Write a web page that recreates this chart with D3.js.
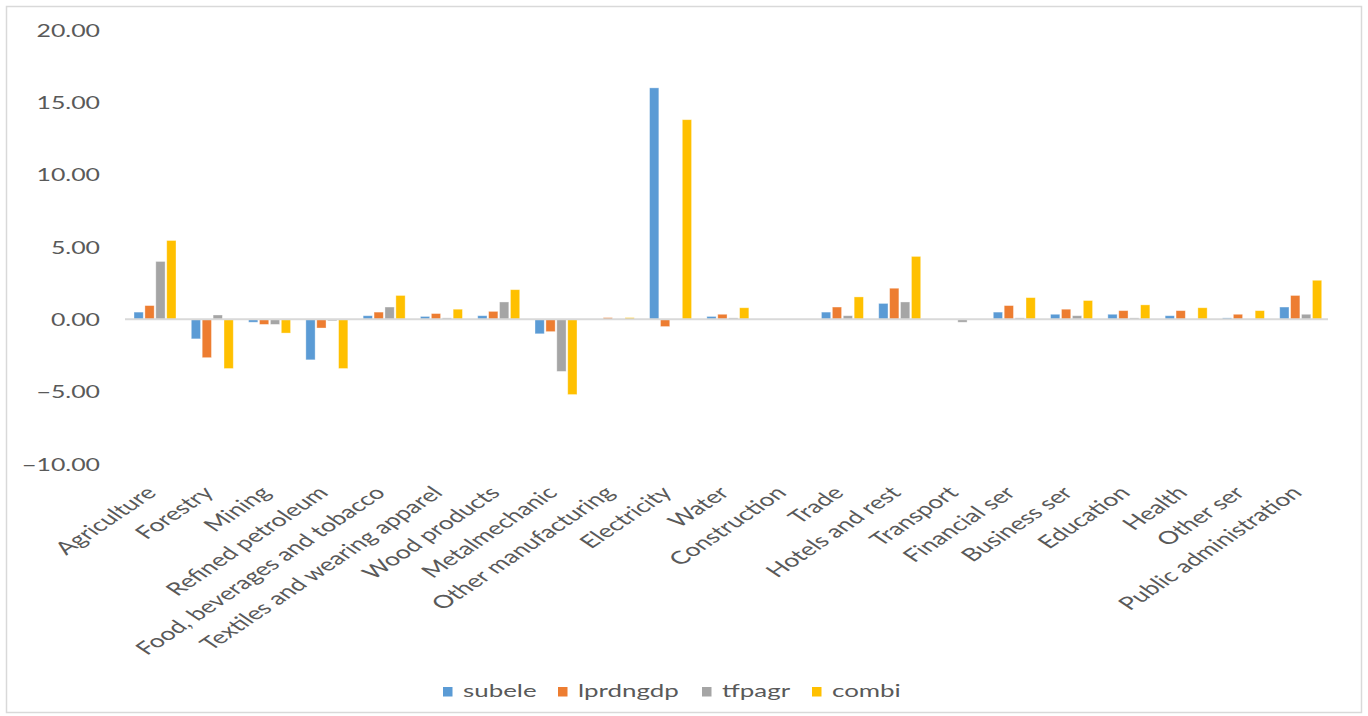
<!DOCTYPE html>
<html>
<head>
<meta charset="utf-8">
<script src="https://cdn.jsdelivr.net/npm/d3@7"></script>
<style>
  html, body { margin: 0; padding: 0; background: #ffffff; }
  svg { display: block; }
  text { font-family: Lato, "Open Sans", sans-serif; fill: #595959; }
</style>
</head>
<body>
<svg id="chart" width="1368" height="716"></svg>
<script>
// Sector categories along the x axis
const categories = [
  "Agriculture", "Forestry", "Mining", "Refined petroleum",
  "Food, beverages and tobacco", "Textiles and wearing apparel",
  "Wood products", "Metalmechanic", "Other manufacturing", "Electricity",
  "Water", "Construction", "Trade", "Hotels and rest", "Transport",
  "Financial ser", "Business ser", "Education", "Health", "Other ser",
  "Public administration"
];

// Series names and values, one value per category
const seriesNames = ["subele", "lprdngdp", "tfpagr", "combi"];
const subele   = [0.50, -1.35, -0.20, -2.80, 0.25, 0.20, 0.25, -1.00, 0.00, 16.00, 0.20, 0.00, 0.50, 1.10, 0.00, 0.50, 0.35, 0.35, 0.25, 0.10, 0.85];
const lprdngdp = [0.95, -2.65, -0.35, -0.60, 0.50, 0.40, 0.55, -0.85, 0.12, -0.50, 0.35, 0.00, 0.85, 2.15, 0.00, 0.95, 0.70, 0.60, 0.60, 0.35, 1.65];
const tfpagr   = [4.00, 0.30, -0.35, -0.10, 0.85, 0.10, 1.20, -3.60, 0.00, 0.00, 0.10, 0.00, 0.25, 1.20, -0.20, 0.10, 0.25, 0.10, 0.00, 0.00, 0.35];
const combi    = [5.45, -3.40, -0.95, -3.40, 1.65, 0.70, 2.05, -5.20, 0.12, 13.80, 0.80, 0.00, 1.55, 4.35, 0.00, 1.50, 1.30, 1.00, 0.80, 0.60, 2.70];

// Y axis ticks
const yTicks = [-10, -5, 0, 5, 10, 15, 20];
</script>
<script>
const seriesValues = [subele, lprdngdp, tfpagr, combi];
const colors = ["#5B9BD5", "#ED7D31", "#A5A5A5", "#FFC000"];
const TEXT_STRETCH = 1.42;

const svg = d3.select("#chart");

// Outer chart frame
svg.append("rect")
  .attr("x", 6.5).attr("y", 6.5)
  .attr("width", 1355).attr("height", 706)
  .attr("fill", "#ffffff")
  .attr("stroke", "#d9d9d9").attr("stroke-width", 1.5);

// Scales
const x0 = d3.scaleBand().domain(categories).range([125, 1328]).padding(0);
const x1 = d3.scaleBand().domain(seriesNames)
  .range([9, 51]).paddingInner(0.15).paddingOuter(0);
const y = d3.scaleLinear().domain([-10, 20]).range([464, 30]);
const color = d3.scaleOrdinal().domain(seriesNames).range(colors);

// Bars
const rows = categories.map((c, i) => ({
  cat: c,
  vals: seriesNames.map((s, k) => ({ series: s, value: seriesValues[k][i] }))
}));

const groups = svg.append("g").selectAll("g")
  .data(rows).join("g")
  .attr("transform", d => `translate(${x0(d.cat)},0)`);

groups.selectAll("rect")
  .data(d => d.vals.filter(v => v.value !== 0))
  .join("rect")
  .attr("x", d => x1(d.series))
  .attr("width", x1.bandwidth())
  .attr("y", d => Math.min(y(d.value), y(0)))
  .attr("height", d => Math.abs(y(d.value) - y(0)))
  .attr("fill", d => color(d.series))
  .attr("stroke", "#ffffff").attr("stroke-opacity", 0.45).attr("stroke-width", 0.8);

// Zero baseline
svg.append("line")
  .attr("x1", 125).attr("x2", 1328)
  .attr("y1", y(0)).attr("y2", y(0))
  .attr("stroke", "#d9d9d9").attr("stroke-width", 2);

// Y axis labels
const yAxis = svg.append("g")
  .attr("transform", "translate(100,0)")
  .call(d3.axisLeft(y).tickValues(yTicks).tickSize(0).tickPadding(0)
    .tickFormat(d3.format(".2f")));
yAxis.select(".domain").remove();
yAxis.selectAll("text")
  .attr("x", 0).attr("dy", "0.36em")
  .attr("text-anchor", "end")
  .attr("transform", `scale(${TEXT_STRETCH},1)`)
  .style("font-size", "17.5px")
  .style("font-family", "Lato, sans-serif")
  .attr("fill", "#595959");

// X axis category labels, rotated
const xAxis = svg.append("g")
  .attr("transform", "translate(0,494)")
  .call(d3.axisBottom(x0).tickSize(0).tickPadding(0));
xAxis.select(".domain").remove();
xAxis.selectAll("text")
  .attr("x", 0).attr("y", 0).attr("dy", 0)
  .attr("text-anchor", "end")
  .attr("transform", `translate(4,0) scale(1.48,1) rotate(-45)`)
  .style("font-size", "18px")
  .style("font-family", "Lato, sans-serif")
  .attr("fill", "#595959");

// Legend
const legendX = [443, 558, 702, 812];
const legend = svg.append("g").selectAll("g")
  .data(seriesNames).join("g")
  .attr("transform", (d, i) => `translate(${legendX[i]},687)`);
legend.append("rect")
  .attr("width", 9.5).attr("height", 9.5)
  .attr("fill", d => color(d));
legend.append("text")
  .attr("x", 0).attr("y", 0)
  .attr("transform", `translate(20,9.8) scale(1.48,1)`)
  .style("font-size", "17.5px")
  .text(d => d);
</script>
</body>
</html>
